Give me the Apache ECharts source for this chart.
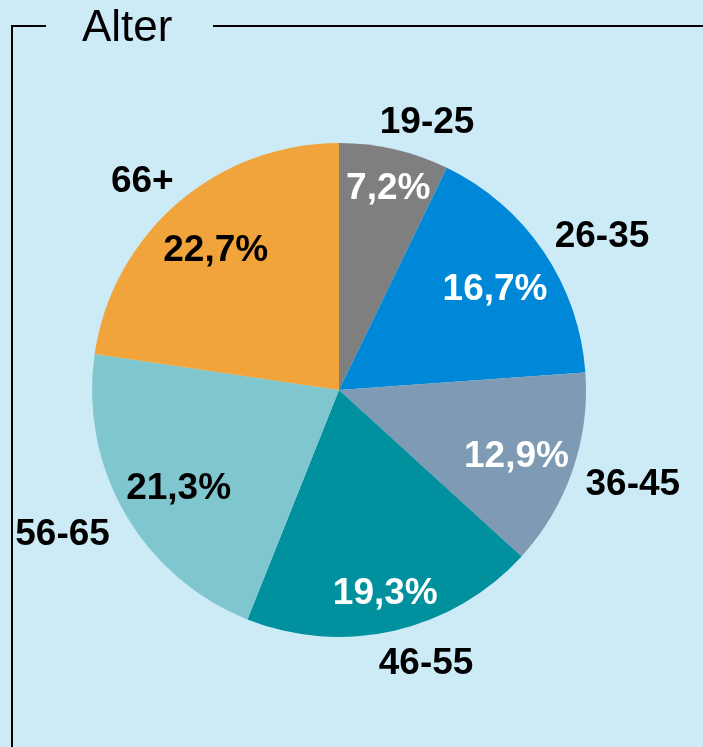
<!DOCTYPE html>
<html>
<head>
<meta charset="utf-8">
<script src="https://cdn.jsdelivr.net/npm/echarts@6/dist/echarts.min.js"></script>
<style>
  html, body { margin: 0; padding: 0; background: #cdebf6; }
  #chart { width: 703px; height: 747px; }
</style>
</head>
<body>
<div id="chart"></div>
<script>
// Altersgruppen und Anteile (%)
const categories = ['19-25', '26-35', '36-45', '46-55', '56-65', '66+']
const shares = [7.2, 16.7, 12.9, 19.3, 21.3, 22.7]

const sliceColors = ['#7f7f7f', '#0088d8', '#7f9ab4', '#00909e', '#80c6ce', '#f1a43b']
const pctTextColors = ['#fff', '#fff', '#fff', '#fff', '#000', '#000']
// kleine Verschiebungen der Beschriftungen wie im Original
const pctShift = [[6, -13], [-4, 8], [-5, 3], [3, 16], [7, 2], [3, 7]]
const nameShift = [[21, 25], [15, 15], [11, -3], [20, -18], [-17, -5], [-1, 18]]

const R = 247
const center = [339, 390]
const fmt = v => v.toFixed(1).replace('.', ',') + '%'

const myChart = echarts.init(document.getElementById('chart'))

myChart.setOption({
    backgroundColor: '#cdebf6',
    animation: false,
    graphic: [
        { type: 'line', shape: { x1: 12, y1: 26, x2: 46, y2: 26 }, style: { stroke: '#000', lineWidth: 2 } },
        { type: 'line', shape: { x1: 213, y1: 26, x2: 703, y2: 26 }, style: { stroke: '#000', lineWidth: 2 } },
        { type: 'line', shape: { x1: 12, y1: 25, x2: 12, y2: 747 }, style: { stroke: '#000', lineWidth: 2 } },
        {
            type: 'text', left: 82, top: 7,
            style: { text: 'Alter', fontSize: 44, fontFamily: 'Liberation Sans', fill: '#000' }
        }
    ],
    series: [
        {
            type: 'pie',
            center: center,
            radius: [0, R],
            startAngle: 90,
            silent: true,
            label: { show: false },
            labelLine: { show: false },
            data: shares.map((v, i) => ({
                name: categories[i], value: v,
                itemStyle: { color: sliceColors[i] }
            }))
        },
        {
            // Prozentwerte innerhalb der Segmente
            type: 'pie',
            center: center,
            radius: [R * 0.54, R],
            startAngle: 90,
            silent: true,
            itemStyle: { color: 'transparent' },
            labelLine: { show: false },
            label: {
                show: true,
                position: 'inside',
                fontSize: 37,
                fontWeight: 'bold',
                fontFamily: 'Liberation Sans',
                formatter: p => fmt(p.value)
            },
            data: shares.map((v, i) => ({
                name: categories[i], value: v,
                label: { color: pctTextColors[i], offset: pctShift[i] }
            }))
        },
        {
            // Kategorienamen außerhalb
            type: 'pie',
            center: center,
            radius: [R * 1.04, R * 1.36],
            startAngle: 90,
            silent: true,
            itemStyle: { color: 'transparent' },
            labelLine: { show: false },
            label: {
                show: true,
                position: 'inside',
                color: '#000',
                fontSize: 37,
                fontWeight: 'bold',
                fontFamily: 'Liberation Sans',
                formatter: p => p.name
            },
            data: shares.map((v, i) => ({
                name: categories[i], value: v,
                label: { offset: nameShift[i] }
            }))
        }
    ]
})
</script>
</body>
</html>
